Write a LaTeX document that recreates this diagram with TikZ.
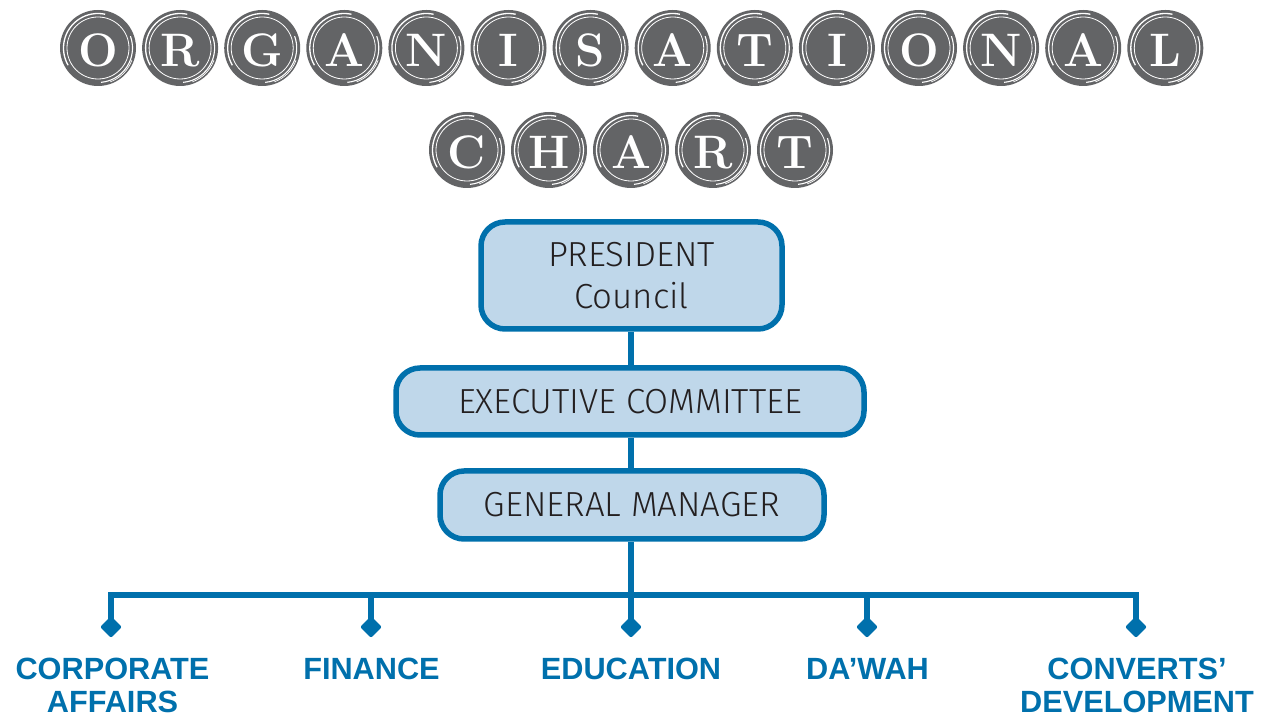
\documentclass[tikz,border=0pt]{standalone}
\usepackage{fontspec}
\usetikzlibrary{shapes.geometric}
\newfontfamily\lightfont{Fira Sans Light}
\newfontfamily\labelfont{Liberation Sans}
\definecolor{keygray}{HTML}{636466}
\definecolor{orgblue}{HTML}{0070AC}
\definecolor{boxfill}{HTML}{BFD7EA}
\definecolor{textdark}{HTML}{231F20}
\newcommand\keycap[3]{%
  \begin{scope}[shift={#2}]
    \fill[keygray] (0,0) circle (38);
    \draw[white, line width=1.3pt] (78:34.5) arc (78:210:34.5);
    \draw[white, line width=0.8pt] (0,0) circle (31);
    \draw[white, line width=1.1pt] (-85:34.5) arc (-85:20:34.5);
    \draw[white, line width=0.7pt] (-70:36) arc (-70:-20:36);
    \node[letter] (#1) at (0,-19) {#3};
  \end{scope}}
\begin{document}
\begin{tikzpicture}[x=1pt,y=1pt,
  orgbox/.style={draw=orgblue, line width=5.5pt, fill=boxfill, rounded corners=24pt,
    inner sep=0pt, text=textdark, font=\lightfont\fontsize{34.8}{42}\selectfont, align=center},
  link/.style={draw=orgblue, line width=5.5pt},
  tipmark/.style={diamond, fill=orgblue, minimum size=22pt, inner sep=0pt, rounded corners=2pt},
  dept/.style={text=orgblue, font=\labelfont\bfseries\fontsize{30.7}{33}\selectfont,
    align=center, anchor=north, inner sep=0pt},
  letter/.style={text=white, font=\fontsize{47}{47}\selectfont\bfseries, anchor=base, inner sep=0pt}]
\useasboundingbox (0,0) rectangle (1268,717);

% title
\foreach \l [count=\i from 0] in {O,R,G,A,N,I,S,A,T,I,O,N,A,L} {
  \keycap{t\i}{(98+82.1*\i,669)}{\l}
}
\foreach \l [count=\i from 0] in {C,H,A,R,T} {
  \keycap{c\i}{(467+82*\i,567)}{\l}
}

% boxes
\node[orgbox, minimum width=301pt, minimum height=107pt] (pres) at (631.5,441.5) {PRESIDENT\\Council};
\node[orgbox, minimum width=468pt, minimum height=67pt] (exec) at (630,315.5) {EXECUTIVE COMMITTEE};
\node[orgbox, minimum width=384pt, minimum height=68pt] (gm) at (632,212) {GENERAL MANAGER};

% tips
\node[tipmark] (d1) at (111,90) {};
\node[tipmark] (d2) at (371,90) {};
\node[tipmark] (d3) at (631,90) {};
\node[tipmark] (d4) at (867,90) {};
\node[tipmark] (d5) at (1136,90) {};
\coordinate (bar) at (631,122);

% connectors
\draw[link] (pres.south -| 631,0) -- (exec.north -| 631,0);
\draw[link] (exec.south -| 631,0) -- (gm.north -| 631,0);
\draw[link] (gm.south -| 631,0) -- (bar);
\draw[link] (d1.center) -- (d1.center |- bar) -- (d5.center |- bar) -- (d5.center);
\draw[link] (d2.center) -- (d2.center |- bar);
\draw[link] (d3.center) -- (d3.center |- bar);
\draw[link] (d4.center) -- (d4.center |- bar);

% labels
\node[dept] (l1) at (112.5,59) {CORPORATE\\AFFAIRS};
\node[dept] (l2) at (371.5,59) {FINANCE};
\node[dept] (l3) at (631,59) {EDUCATION};
\node[dept] (l4) at (867.5,59) {DA’WAH};
\node[dept] (l5) at (1137,59) {CONVERTS’\\DEVELOPMENT};
\end{tikzpicture}
\end{document}
